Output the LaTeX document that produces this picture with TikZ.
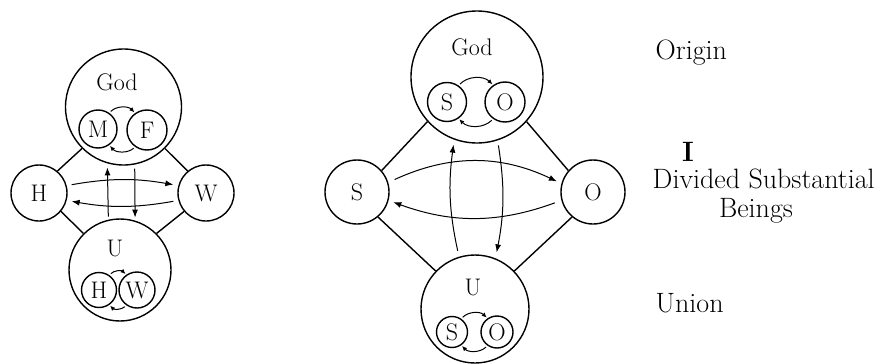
\documentclass[tikz,border=0pt]{standalone}
\usetikzlibrary{arrows.meta}
\begin{document}
\begin{tikzpicture}[x=1pt, y=-1pt, line width=1.4pt,
    ball/.style={draw, circle, inner sep=0pt, font=\fontsize{24}{28}\selectfont},
    lab/.style={inner sep=0pt, font=\fontsize{24}{28}\selectfont},
    side/.style={inner sep=0pt, font=\fontsize{28}{32}\selectfont},
    tip/.style={-{Latex[length=8pt, width=6pt]}, line width=1pt},
    small/.style={-{Latex[length=5pt, width=4.5pt]}, line width=1pt, shorten <=2pt, shorten >=1pt}]
    \useasboundingbox (0,0) rectangle (886,364);
    % left picture
    \node[ball, minimum size=116pt] (lgod) at (123.5,107) {};
    \node[lab] (lgodt) at (117,82) {God};
    \node[ball, minimum size=38pt] (lM) at (98,129) {M};
    \node[ball, minimum size=40pt] (lF) at (147,130) {F};
    \node[ball, minimum size=56pt] (lH) at (39,193) {H};
    \node[ball, minimum size=56pt] (lW) at (206,193) {W};
    \node[ball, minimum size=102pt] (lU) at (120,270) {};
    \node[lab] (lUt) at (115,248) {U};
    \node[ball, minimum size=35pt] (lh) at (99,290) {H};
    \node[ball, minimum size=36pt] (lw) at (137,290) {W};
    \draw (lH.50) -- (lgod.225);
    \draw (lW.130) -- (lgod.-45);
    \draw (lH.-40) -- (lU.135);
    \draw (lW.-140) -- (lU.45);
    \draw[tip, shorten <=5pt, shorten >=5pt] (lH.15) to[bend left=10] (lW.165);
    \draw[tip, shorten <=5pt, shorten >=5pt] (lW.-165) to[bend left=10] (lH.-15);
    \draw[tip, shorten <=3pt, shorten >=4pt] (lU.103) -- (lgod.-106);
    \draw[tip, shorten <=4pt, shorten >=3pt] (lgod.-79) -- (lU.73);
    % right picture
    \node[ball, minimum size=132pt] (rgod) at (477,77) {};
    \node[lab] (rgodt) at (472,47) {God};
    \node[ball, minimum size=39pt] (rs) at (447,102) {S};
    \node[ball, minimum size=40pt] (ro) at (505,102) {O};
    \node[ball, minimum size=64pt] (rS) at (357,192) {S};
    \node[ball, minimum size=64pt] (rO) at (593,192) {O};
    \node[ball, minimum size=108pt] (rU) at (475,309) {};
    \node[lab] (rUt) at (473,287) {U};
    \node[ball, minimum size=31pt] (rus) at (452,332) {S};
    \node[ball, minimum size=32pt] (ruo) at (497,332) {O};
    \draw (rS.41) -- (rgod.222);
    \draw (rO.139) -- (rgod.-42);
    \draw (rS.-50) -- (rU.136);
    \draw (rO.-130) -- (rU.44);
    \draw[tip, shorten <=7pt, shorten >=5pt] (rS.17) to[bend left=25] (rO.165);
    \draw[tip, shorten <=7pt, shorten >=5pt] (rO.-165) to[bend left=20] (rS.-15);
    \draw[tip, shorten <=6pt, shorten >=5pt] (rU.107) to[bend left=10] (rgod.-110);
    \draw[tip, shorten <=5pt, shorten >=6pt] (rgod.-72) to[bend left=10] (rU.68);
    % turning arrows
    \foreach \a/\b in {lM/lF, lh/lw, rs/ro, rus/ruo} {
      \draw[small] (\a.55) to[bend left=45] (\b.125);
      \draw[small] (\b.-125) to[bend left=45] (\a.-55);
    }
    % side texts
    \node[side, anchor=west] (orig) at (655,53) {Origin};
    \node[side, font=\fontsize{28}{32}\selectfont\bfseries] (one) at (688,152) {I};
    \node[side, anchor=west] (div) at (652,179) {Divided Substantial};
    \node[side] (bei) at (756,211) {Beings};
    \node[side, anchor=west] (uni) at (655,303) {Union};
\end{tikzpicture}
\end{document}
